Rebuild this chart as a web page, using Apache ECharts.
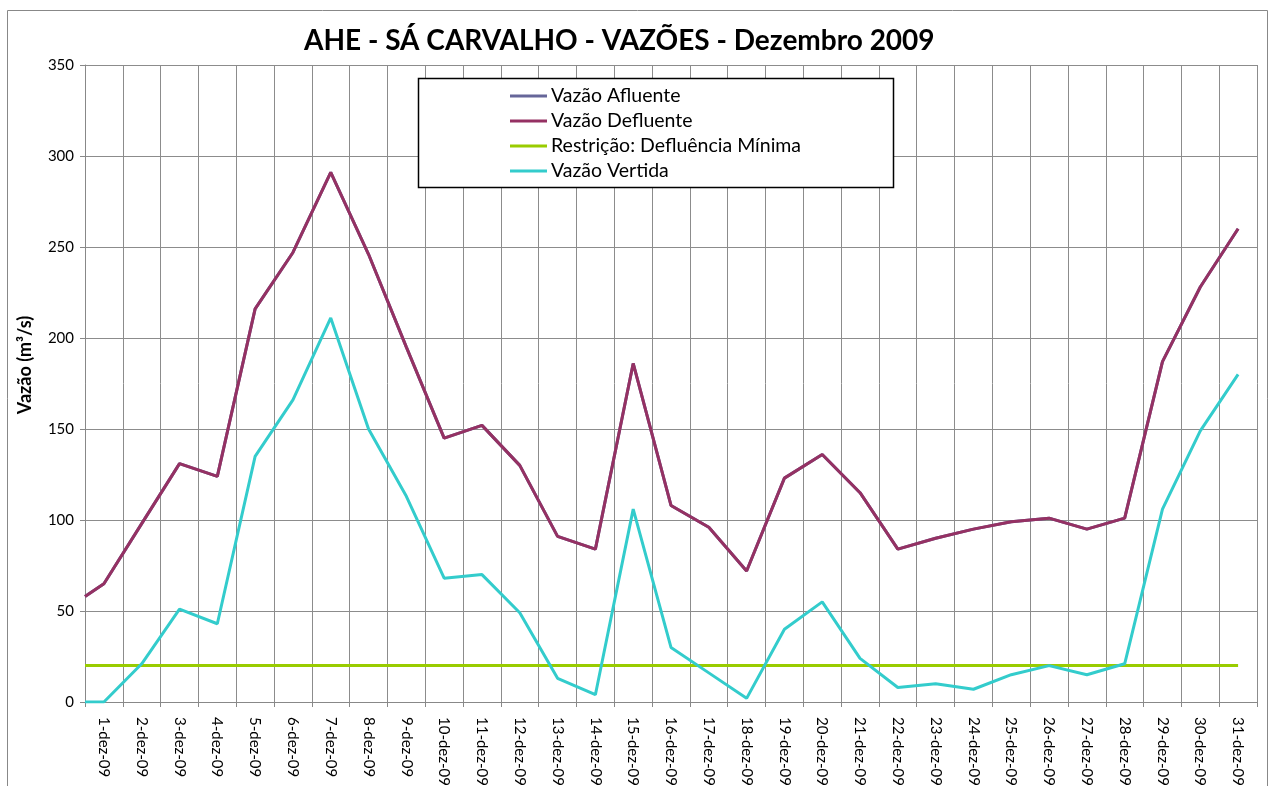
<!DOCTYPE html>
<html>
<head>
<meta charset="utf-8">
<script src="https://cdn.jsdelivr.net/npm/echarts@6/dist/echarts.min.js"></script>
<style>
html,body{margin:0;padding:0;background:#fff;}
#chart{width:1273px;height:786px;}
</style>
</head>
<body>
<div id="chart"></div>
<script>
// Day labels
const categories = ["1-dez-09","2-dez-09","3-dez-09","4-dez-09","5-dez-09","6-dez-09","7-dez-09","8-dez-09","9-dez-09","10-dez-09",
  "11-dez-09","12-dez-09","13-dez-09","14-dez-09","15-dez-09","16-dez-09","17-dez-09","18-dez-09","19-dez-09","20-dez-09",
  "21-dez-09","22-dez-09","23-dez-09","24-dez-09","25-dez-09","26-dez-09","27-dez-09","28-dez-09","29-dez-09","30-dez-09","31-dez-09"];
// First value = reading at the start of the axis, then one value per day
const afluente  = [58, 65, 98, 131, 124, 216, 247, 291, 246, 195, 145, 152, 130, 91, 84, 186, 108, 96, 72, 123, 136, 115, 84, 90, 95, 99, 101, 95, 101, 187, 228, 260];
const defluente = [58, 65, 98, 131, 124, 216, 247, 291, 246, 195, 145, 152, 130, 91, 84, 186, 108, 96, 72, 123, 136, 115, 84, 90, 95, 99, 101, 95, 101, 187, 228, 260];
const restricao = [20, 20, 20, 20, 20, 20, 20, 20, 20, 20, 20, 20, 20, 20, 20, 20, 20, 20, 20, 20, 20, 20, 20, 20, 20, 20, 20, 20, 20, 20, 20, 20];
const vertida   = [0, 0, 21, 51, 43, 135, 166, 211, 150, 113, 68, 70, 49, 13, 4, 106, 30, 16, 2, 40, 55, 24, 8, 10, 7, 15, 20, 15, 21, 106, 149, 180];
const yTicks = [0, 50, 100, 150, 200, 250, 300, 350];

function toPoints(arr){
  // index 0 sits on the left edge of the axis, day i sits in the middle of its category
  return arr.map((v, i) => [i === 0 ? 0 : i - 0.5, v]);
}

const FONT = 'Lato, "Open Sans", sans-serif';
const chart = echarts.init(document.getElementById('chart'), null, {renderer: 'canvas'});
const lineSeries = (name, arr, color, z) => ({
  name, type: 'line', data: toPoints(arr), xAxisIndex: 0, yAxisIndex: 0,
  showSymbol: false, symbol: 'none', z,
  lineStyle: {color, width: 3}, itemStyle: {color}, animation: false
});

chart.setOption({
  animation: false,
  backgroundColor: '#fff',
  title: {
    text: 'AHE - SÁ CARVALHO - VAZÕES - Dezembro 2009',
    left: 299, top: 22,
    textStyle: {fontFamily: FONT, fontWeight: 'bold', fontSize: 28, color: '#000'}
  },
  graphic: [
    {type: 'rect', shape: {x: 7.5, y: 10.5, width: 1260, height: 800}, style: {fill: null, stroke: '#888', lineWidth: 1}, z: 0},
    {type: 'rect', shape: {x: 418.5, y: 78.5, width: 475, height: 109}, style: {fill: '#fff', stroke: '#000', lineWidth: 1.5}, z: 10},
    {type: 'text', x: 25, y: 365, rotation: Math.PI / 2, z: 10,
     style: {text: 'Vazão (m³/s)', fontFamily: FONT, fontWeight: 'bold', fontSize: 18, fill: '#000', align: 'center', verticalAlign: 'middle'}}
  ],
  legend: {
    orient: 'vertical', left: 505, top: 81, z: 20,
    icon: 'rect', itemWidth: 37, itemHeight: 3, itemGap: 5,
    textStyle: {fontFamily: FONT, fontSize: 19.5, color: '#000', lineHeight: 20, padding: [0,0,0,-1]},
    data: ['Vazão Afluente', 'Vazão Defluente', 'Restrição: Defluência Mínima', 'Vazão Vertida']
  },
  grid: {left: 85, right: 16, top: 65, bottom: 84, containLabel: false, outerBoundsMode: 'none'},
  xAxis: [
    {
      type: 'value', min: 0, max: categories.length, interval: 1,
      axisLine: {show: true, lineStyle: {color: '#888', width: 1}},
      axisTick: {show: true, length: 5, lineStyle: {color: '#888'}},
      axisLabel: {show: false},
      splitLine: {show: true, lineStyle: {color: '#8c8c8c', width: 1}}
    },
    {
      type: 'category', data: categories, boundaryGap: true, position: 'bottom',
      axisLine: {show: false}, axisTick: {show: false}, splitLine: {show: false},
      axisLabel: {interval: 0, rotate: -90, margin: 15, fontFamily: FONT, fontSize: 15, color: '#000'}
    }
  ],
  yAxis: {
    type: 'value', min: yTicks[0], max: yTicks[yTicks.length - 1], interval: 50,
    axisLine: {show: true, lineStyle: {color: '#888', width: 1}},
    axisTick: {show: true, length: 5, lineStyle: {color: '#888'}},
    axisLabel: {margin: 11, fontFamily: FONT, fontSize: 15, color: '#000'},
    splitLine: {show: true, lineStyle: {color: '#8c8c8c', width: 1}}
  },
  series: [
    lineSeries('Vazão Afluente', afluente, '#666699', 2),
    lineSeries('Vazão Defluente', defluente, '#953163', 3),
    lineSeries('Restrição: Defluência Mínima', restricao, '#99CC00', 4),
    lineSeries('Vazão Vertida', vertida, '#33CCCC', 5)
  ]
});
</script>
</body>
</html>
